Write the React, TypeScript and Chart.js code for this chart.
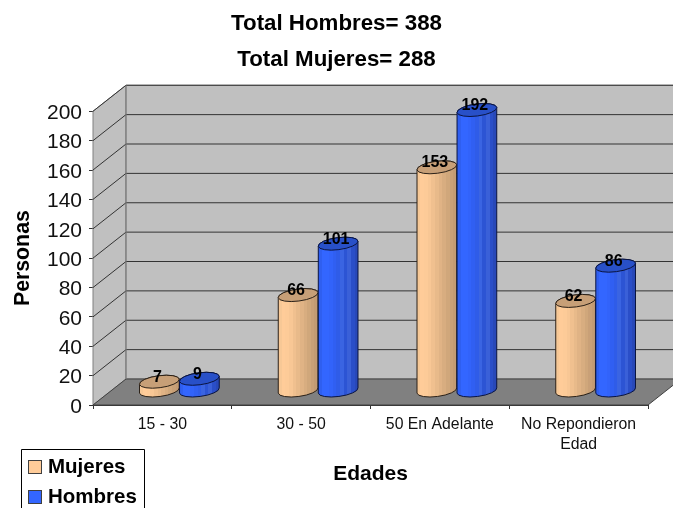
import React, { useEffect, useRef } from "react";
import { Chart, registerables } from "chart.js";

Chart.register(...registerables);

const categories: (string | string[])[] = ["15 - 30", "30 - 50", "50 En Adelante", ["No Repondieron", "Edad"]];
const mujeres = [7, 66, 153, 62];
const hombres = [9, 101, 192, 86];
const seriesNames = ["Mujeres", "Hombres"];
const titleLines = ["Total Hombres= 388", "Total Mujeres= 288"];
const mujeresShades = ["#f7c896", "#ffcc99", "#fdcb98", "#f8c795", "#f0c08f", "#e8ba8a", "#e0b385", "#d8ad80", "#d0a77b", "#c9a077", "#c39b73"];
const hombresShades = ["#2f5ff0", "#3366ff", "#3366ff", "#3263fa", "#305ff2", "#2f5ce8", "#3a64e2", "#2c54d4", "#3a60d8", "#2a4ec8", "#2848b8"];
const capColors = ["#c79f77", "#2850c8"];
const lineColors = ["#2b2118", "#0a1440"];
const swatchColors = ["#ffcc99", "#3366ff"];

const FONT = "'Liberation Sans', Arial, sans-serif";
const DX = 33, DY = 26;       // depth of the 3D box
const BX = 17, BY = 13;       // bars stand half way back on the floor
const RY = 6, ROT = -0.13;    // cylinder cap

const box3d = {
  id: "box3d",
  afterLayout(chart: any) {
    // centre the title on the whole picture, not on the padded area
    chart.titleBlock.left = 0;
    chart.titleBlock.right = chart.width;
    chart.titleBlock.width = chart.width;
  },
  beforeDraw(chart: any) {
    // the reference's value labels sit a little under their ticks
    chart.scales.y.getLabelItems(chart.chartArea).forEach((it: any) => {
      it.options.translation = [it.options.translation[0], it.options.translation[1] + 2];
    });
    chart.scales.x.getLabelItems(chart.chartArea);
  },
  beforeDatasetsDraw(chart: any) {
    const { ctx, chartArea: a, scales } = chart;
    const y = scales.y;
    ctx.save();
    ctx.fillStyle = "#c0c0c0";
    ctx.strokeStyle = "#808080";
    ctx.lineWidth = 1;
    ctx.beginPath();
    ctx.moveTo(a.left, a.bottom);
    ctx.lineTo(a.left + DX, a.bottom - DY);
    ctx.lineTo(a.left + DX, a.top - DY);
    ctx.lineTo(a.left, a.top);
    ctx.closePath();
    ctx.fill();
    ctx.stroke();
    ctx.beginPath();
    ctx.rect(a.left + DX, a.top - DY, a.right - a.left, a.bottom - a.top);
    ctx.fill();
    ctx.stroke();
    ctx.fillStyle = "#808080";
    ctx.beginPath();
    ctx.moveTo(a.left, a.bottom);
    ctx.lineTo(a.left + DX, a.bottom - DY);
    ctx.lineTo(a.right + DX, a.bottom - DY);
    ctx.lineTo(a.right, a.bottom);
    ctx.closePath();
    ctx.fill();
    ctx.strokeStyle = "#404040";
    ctx.stroke();
    ctx.strokeStyle = "#333333";
    y.ticks.forEach((t: any) => {
      if (t.value === 0) return;
      const p = y.getPixelForValue(t.value);
      ctx.beginPath();
      ctx.moveTo(a.left, p);
      ctx.lineTo(a.left + DX, p - DY);
      ctx.lineTo(a.right + DX, p - DY);
      ctx.stroke();
    });
    ctx.strokeStyle = "#808080";
    ctx.beginPath();
    ctx.moveTo(a.left + DX, a.top - DY);
    ctx.lineTo(a.left + DX, a.bottom - DY);
    ctx.stroke();
    ctx.restore();
  },
  afterDatasetsDraw(chart: any) {
    const { ctx } = chart;
    ctx.save();
    const labels: any[] = [];
    chart.data.datasets.forEach((ds: any, i: number) => {
      const shades = i === 0 ? mujeresShades : hombresShades;
      chart.getDatasetMeta(i).data.forEach((bar: any, j: number) => {
        const cx = bar.x + BX;
        const rx = bar.width / 2;
        const yTop = bar.y - BY;
        const yBase = bar.base - BY - 1;
        const g = ctx.createLinearGradient(cx - rx, 0, cx + rx, 0);
        shades.forEach((c, k) => {
          g.addColorStop(k / shades.length, c);
          g.addColorStop((k + 1) / shades.length, c);
        });
        ctx.beginPath();
        ctx.ellipse(cx, yBase, rx, RY, ROT, 0, Math.PI);
        ctx.ellipse(cx, yTop, rx, RY, ROT, Math.PI, 0);
        ctx.closePath();
        ctx.fillStyle = g;
        ctx.fill();
        ctx.strokeStyle = lineColors[i];
        ctx.lineWidth = 1;
        ctx.stroke();
        ctx.beginPath();
        ctx.ellipse(cx, yTop, rx, RY, ROT, 0, Math.PI * 2);
        ctx.fillStyle = capColors[i];
        ctx.fill();
        ctx.stroke();
        labels.push([String(ds.data[j]), cx - 2, yTop - 4.5]);
      });
    });
    ctx.fillStyle = "#000";
    ctx.font = `bold 16px ${FONT}`;
    ctx.textAlign = "center";
    ctx.textBaseline = "middle";
    labels.forEach(([s, x, y]) => ctx.fillText(s, x, y));

    // legend, cut off by the bottom of the picture as in the reference
    ctx.fillStyle = "#fff";
    ctx.strokeStyle = "#000";
    ctx.beginPath();
    ctx.rect(21.5, 449.5, 123, 70);
    ctx.fill();
    ctx.stroke();
    ctx.font = `bold 20.5px ${FONT}`;
    ctx.textAlign = "left";
    seriesNames.forEach((name, i) => {
      const sy = 460.5 + i * 30;
      ctx.fillStyle = swatchColors[i];
      ctx.strokeStyle = "#404040";
      ctx.fillRect(28.5, sy, 13, 13);
      ctx.strokeRect(28.5, sy, 13, 13);
      ctx.fillStyle = "#000";
      ctx.fillText(name, 48, sy + 7);
    });
    ctx.restore();
  },
};

export default function App() {
  const ref = useRef<HTMLCanvasElement>(null);
  useEffect(() => {
    document.body.style.margin = "0";
    const chart = new Chart(ref.current!, {
      type: "bar",
      data: {
        labels: categories as any,
        datasets: [
          { label: seriesNames[0], data: mujeres, backgroundColor: "rgba(0,0,0,0)", categoryPercentage: 0.577, barPercentage: 1 },
          { label: seriesNames[1], data: hombres, backgroundColor: "rgba(0,0,0,0)", categoryPercentage: 0.577, barPercentage: 1 },
        ],
      },
      options: {
        responsive: false,
        animation: false,
        events: [],
        layout: { padding: { left: 0, top: 0, right: 25, bottom: 0 } },
        plugins: {
          legend: { display: false },
          tooltip: { enabled: false },
          title: {
            display: true,
            text: titleLines,
            color: "#000",
            font: { family: FONT, size: 22.3, weight: "bold", lineHeight: 1.62 },
            padding: { top: 6, bottom: 33 },
          },
        },
        scales: {
          x: {
            afterFit: (s: any) => { s.height = 103; s.paddingLeft = 0; s.paddingRight = 0; },
            grid: { drawOnChartArea: false, drawTicks: true, tickLength: 4, color: "#333", offset: true },
            border: { display: true, color: "#333" },
            ticks: {
              color: "#111",
              font: { family: FONT, size: 15.8, lineHeight: 1.27 },
              padding: 6,
              maxRotation: 0,
              minRotation: 0,
              autoSkip: false,
            },
            title: {
              display: true,
              text: "Edades",
              color: "#000",
              font: { family: FONT, size: 21, weight: "bold", lineHeight: 1.2 },
              padding: { top: 0, bottom: 21 },
            },
          },
          y: {
            min: 0,
            max: 200,
            afterFit: (s: any) => { s.width = 93; s.paddingTop = 0; s.paddingBottom = 0; },
            grid: { drawOnChartArea: false, drawTicks: true, tickLength: 4, color: "#333" },
            border: { display: true, color: "#333" },
            ticks: {
              stepSize: 20,
              color: "#111",
              font: { family: FONT, size: 21 },
              padding: 7,
            },
            title: {
              display: true,
              text: "Personas",
              color: "#000",
              font: { family: FONT, size: 21.3, weight: "bold", lineHeight: 1.2 },
              padding: { top: 10, bottom: 0 },
            },
          },
        },
      },
      plugins: [box3d],
    } as any);
    return () => chart.destroy();
  }, []);
  return <canvas ref={ref} width={673} height={508} style={{ display: "block" }} />;
}
